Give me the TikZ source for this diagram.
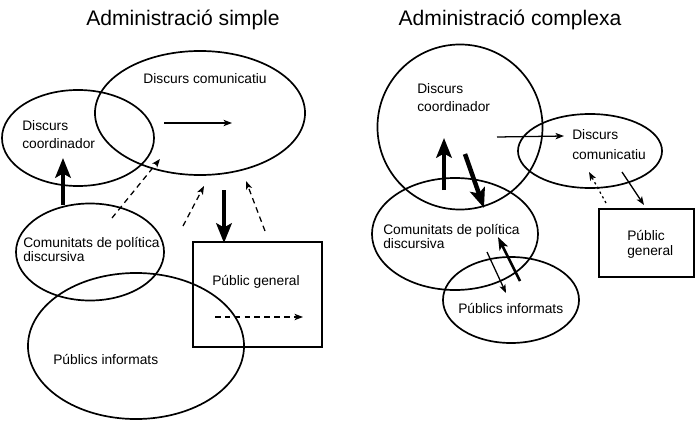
\documentclass[tikz,border=0pt]{standalone}
\usepackage{fontspec}
\setmainfont{Liberation Sans}
\usetikzlibrary{
    arrows.meta,
    positioning,
    calc,
    shapes.geometric
}
\tikzset{
    % --- Discourse sphere (ellipse or circle outline) ---
    sphere/.style = {
        ellipse, draw, line width=1.2pt, inner sep=0pt
    },
    % --- Box for the general public ---
    public box/.style = {
        rectangle, draw, line width=1.2pt, inner sep=0pt
    },
    % --- Heading above each half ---
    heading/.style = {
        font=\fontsize{15}{18}\selectfont, inner sep=0pt
    },
    % --- Text inside a sphere ---
    sphere text/.style = {
        font=\fontsize{9.8}{12.8}\selectfont,
        align=left, inner sep=0pt
    },
    % --- Same, with close lines ---
    tight text/.style = {
        font=\fontsize{9.8}{9.4}\selectfont,
        align=left, inner sep=0pt
    },
    % --- Thin flow arrow ---
    flow arrow/.style = {
        -{Stealth[length=6pt, width=4.5pt, inset=1.5pt]}, line width=0.9pt
    },
    % --- Heavy flow arrow ---
    heavy arrow/.style = {
        -{Stealth[length=14pt, width=11pt, inset=3pt]}, line width=3.2pt
    },
    % --- Medium flow arrow ---
    medium arrow/.style = {
        -{Stealth[length=9pt, width=6.5pt, inset=2pt]}, line width=1.8pt
    },
    % --- Weak (dashed) flow ---
    weak arrow/.style = {
        flow arrow, dash pattern=on 4pt off 3pt
    },
    % --- Very weak (dotted) flow ---
    faint arrow/.style = {
        flow arrow, dash pattern=on 1.6pt off 2.2pt
    }
}

\begin{document}
\begin{tikzpicture}[x=0.025cm, y=-0.025cm]

\useasboundingbox (0,0) rectangle (697,421);

% ---------------------------------------------------------
% Simple administration (left)
% ---------------------------------------------------------
\node[heading, anchor=base] (TitleL) at (183,25) {Administració simple};

\node[sphere, minimum width=5.25cm, minimum height=3.1cm] (ComL) at (200,113) {};
\node[sphere, minimum width=3.8cm, minimum height=2.4cm] (CoordL) at (78,138) {};
\node[sphere, minimum width=3.7cm, minimum height=2.425cm] (PolL) at (90,252) {};
\node[sphere, minimum width=5.4cm, minimum height=3.65cm] (InfL) at (136,346) {};
\node[public box, minimum width=3.225cm, minimum height=2.625cm] (GenL) at (257.5,294.5) {};

% text anchors sit on the last line
\node[sphere text, anchor=base] (ComLText) at (205,83) {Discurs comunicatiu};
\node[sphere text, anchor=base west] (CoordLText) at (22,148) {Discurs\\coordinador};
\node[tight text, anchor=base west] (PolLText) at (23,261) {Comunitats de política\\discursiva};
\node[sphere text, anchor=base west] (GenLText) at (212,285) {Públic general};
\node[sphere text, anchor=base west] (InfLText) at (53,364) {Públics informats};

% arrow ends
\coordinate (ComLFrom) at (164,123);
\coordinate (ComLTo) at (232,123);
\coordinate (PolLUpFrom) at (63,205);
\coordinate (PolLUpTo) at (63,158);
\coordinate (PolLDashFrom) at (112,218);
\coordinate (PolLDashTo) at (160,159);
\coordinate (GenLDashFrom) at (183,226);
\coordinate (GenLDashTo) at (204,186);
\coordinate (ComLDownFrom) at (224,190);
\coordinate (ComLDownTo) at (224,243);
\coordinate (GenLBackFrom) at (265,231);
\coordinate (GenLBackTo) at (246,181);
\coordinate (GenLInFrom) at (215,317);
\coordinate (GenLInTo) at (303,317);

\draw[flow arrow] (ComLFrom) -- (ComLTo);
\draw[heavy arrow] (PolLUpFrom) -- (PolLUpTo);
\draw[weak arrow] (PolLDashFrom) -- (PolLDashTo);
\draw[weak arrow] (GenLDashFrom) -- (GenLDashTo);
\draw[heavy arrow] (ComLDownFrom) -- (ComLDownTo);
\draw[weak arrow] (GenLBackFrom) -- (GenLBackTo);
\draw[weak arrow] (GenLInFrom) -- (GenLInTo);

% ---------------------------------------------------------
% Complex administration (right)
% ---------------------------------------------------------
\node[heading, anchor=base] (TitleR) at (510,25) {Administració complexa};

\node[sphere, minimum width=4.125cm, minimum height=4.125cm] (CoordR) at (460,127) {};
\node[sphere, minimum width=3.6cm, minimum height=1.85cm] (ComR) at (590,151) {};
\node[sphere, minimum width=4.15cm, minimum height=2.8cm] (PolR) at (455,234) {};
\node[sphere, minimum width=3.4cm, minimum height=2.15cm] (InfR) at (511,300) {};
\node[public box, minimum width=2.375cm, minimum height=1.7cm] (GenR) at (646.5,243) {};

\node[sphere text, anchor=base west] (CoordRText) at (417,111) {Discurs\\coordinador};
\node[sphere text, anchor=base west, font=\fontsize{9.8}{14}\selectfont] (ComRText) at (572,159) {Discurs\\comunicatiu};
\node[tight text, anchor=base west] (PolRText) at (383,248) {Comunitats de política\\discursiva};
\node[sphere text, anchor=base west] (InfRText) at (458,313) {Públics informats};
\node[tight text, anchor=base west, font=\fontsize{9.8}{10.2}\selectfont] (GenRText) at (627,255) {Públic\\general};

% arrow ends
\coordinate (CoordRFrom) at (497,137);
\coordinate (CoordRTo) at (564,136);
\coordinate (PolRUpFrom) at (444,190);
\coordinate (PolRUpTo) at (444,138);
\coordinate (CoordRDownFrom) at (465,154);
\coordinate (CoordRDownTo) at (484,208);
\coordinate (GenRBackFrom) at (606,203);
\coordinate (GenRBackTo) at (589,172);
\coordinate (ComRDownFrom) at (622,172);
\coordinate (ComRDownTo) at (644,205);
\coordinate (PolRDownFrom) at (487,252);
\coordinate (PolRDownTo) at (506,293);
\coordinate (InfRUpFrom) at (520,281);
\coordinate (InfRUpTo) at (498,237);

\draw[flow arrow] (CoordRFrom) -- (CoordRTo);
\draw[heavy arrow] (PolRUpFrom) -- (PolRUpTo);
\draw[heavy arrow] (CoordRDownFrom) -- (CoordRDownTo);
\draw[faint arrow] (GenRBackFrom) -- (GenRBackTo);
\draw[flow arrow] (ComRDownFrom) -- (ComRDownTo);
\draw[flow arrow] (PolRDownFrom) -- (PolRDownTo);
\draw[medium arrow] (InfRUpFrom) -- (InfRUpTo);

\end{tikzpicture}
\end{document}
